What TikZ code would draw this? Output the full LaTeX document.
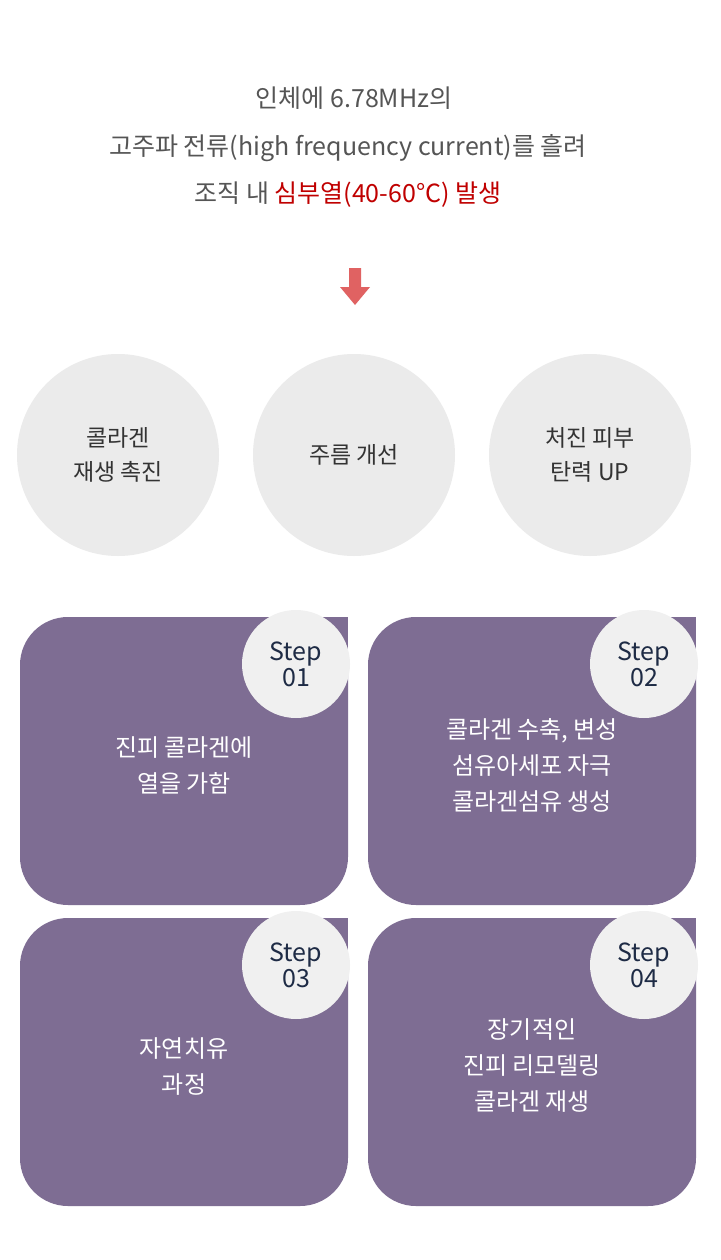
\documentclass[tikz,border=0pt]{standalone}
\usepackage{fontspec}
\setmainfont{Noto Sans CJK KR}
\begin{document}
\begin{tikzpicture}[x=1pt,y=-1pt,
  title/.style={font=\fontsize{25}{30}\selectfont, text=gray1, anchor=center},
  circ/.style={circle, fill=lightg, minimum size=202pt, inner sep=0, align=center, font=\fontsize{23}{34}\selectfont, text=dark},
  stepc/.style={circle, fill=stepg, minimum size=108pt, inner sep=0, align=center, font=\fontsize{25}{30}\selectfont, text=navy},
  btext/.style={align=center, font=\fontsize{24}{36}\selectfont, text=white}]
\definecolor{gray1}{HTML}{555555}
\definecolor{redt}{HTML}{C00000}
\definecolor{lightg}{HTML}{EBEBEB}
\definecolor{stepg}{HTML}{F0F0F0}
\definecolor{dark}{HTML}{333333}
\definecolor{navy}{HTML}{1E2B45}
\definecolor{purp}{HTML}{7E6D93}
\definecolor{arr}{HTML}{E06262}
\useasboundingbox[fill=white] (0,0) rectangle (720,1260);
\node[title] (t1) at (354,98) {인체에 6.78MHz의};
\node[title] (t2) at (348,148) {고주파 전류(high frequency current)를 흘려};
\node[title] (t3) at (348,195) {조직 내 \textcolor{redt}{심부열(40-60°C) 발생}};
\fill[arr] (349,268) -- (361,268) -- (361,287) -- (370,287) -- (355,305) -- (340,287) -- (349,287) -- cycle;
\node[circ] (c1) at (118,455) {콜라겐\\재생 촉진};
\node[circ] (c2) at (354,455) {주름 개선};
\node[circ] (c3) at (590,455) {처진 피부\\탄력 UP};
\foreach \x/\y/\n/\s/\t in {20/617/1/01/{진피 콜라겐에\\열을 가함},368/617/2/02/{콜라겐 수축, 변성\\섬유아세포 자극\\콜라겐섬유 생성},20/918/3/03/{자연치유\\과정},368/918/4/04/{장기적인\\진피 리모델링\\콜라겐 재생}}{
  \fill[purp, rounded corners=48pt] (\x,\y) rectangle (\x+328,\y+288);
  \fill[purp] (\x+200,\y) rectangle (\x+328,\y+100);
  \node[btext] (b\n) at (\x+164,\y+148) {\t};
  \node[stepc] (s\n) at (\x+276,\y+47) {Step\\[-4pt]\s};
}
\end{tikzpicture}
\end{document}
